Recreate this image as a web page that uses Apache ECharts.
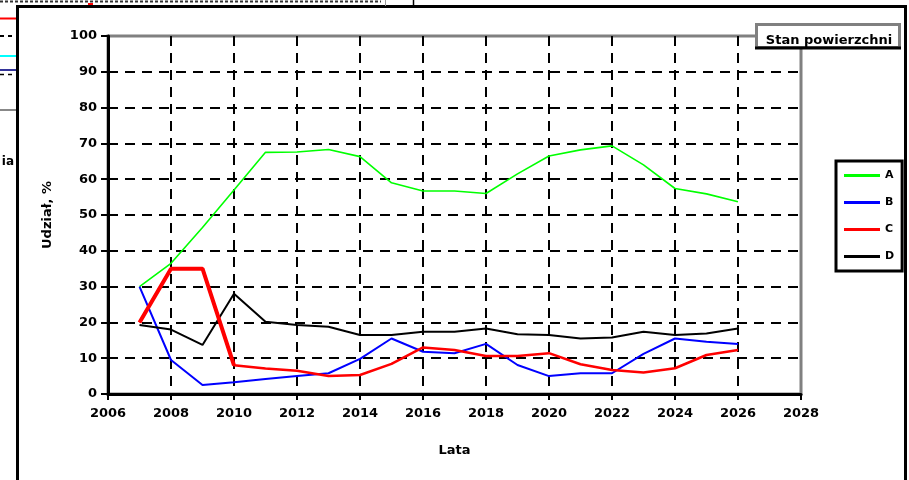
<!DOCTYPE html>
<html>
<head>
<meta charset="utf-8">
<script src="https://cdn.jsdelivr.net/npm/echarts@6/dist/echarts.min.js"></script>
<style>
  html, body { margin: 0; padding: 0; background: #fff; }
  #chart { width: 909px; height: 480px; }
</style>
</head>
<body>
<div id="chart"></div>
<script>
// Years along the horizontal axis
const years = [2007, 2008, 2009, 2010, 2011, 2012, 2013, 2014, 2015, 2016,
               2017, 2018, 2019, 2020, 2021, 2022, 2023, 2024, 2025, 2026];

// Share of each surface type, %
const seriesA = [30, 36.5, 46.5, 57, 67.5, 67.6, 68.3, 66.3, 59, 56.7,
                 56.7, 56, 61.5, 66.5, 68.2, 69.3, 64, 57.4, 55.9, 53.7];
const seriesB = [30, 9.5, 2.5, 3.3, 4.2, 5, 5.8, 9.8, 15.5, 11.8,
                 11.4, 14, 8.1, 5, 5.8, 5.8, 11.2, 15.5, 14.6, 14];
const seriesC = [20, 35, 35, 8, 7.1, 6.5, 5, 5.3, 8.4, 13,
                 12.3, 10.6, 10.6, 11.4, 8.3, 6.7, 6, 7.2, 10.9, 12.3];
const seriesD = [19.3, 18, 13.7, 28, 20.2, 19.3, 18.8, 16.5, 16.5, 17.4,
                 17.4, 18.3, 16.7, 16.5, 15.5, 15.8, 17.4, 16.5, 16.9, 18.3];

// Axis ticks
const xTicks = [2006, 2008, 2010, 2012, 2014, 2016, 2018, 2020, 2022, 2024, 2026, 2028];
const yTicks = [0, 10, 20, 30, 40, 50, 60, 70, 80, 90, 100];

const names = ['A', 'B', 'C', 'D'];
const colors = ['#00ff00', '#0000ff', '#ff0000', '#000000'];

const pairs = (vals) => years.map((y, i) => [y, vals[i]]);

const font = 'DejaVu Sans';
const dash = [10, 7];
const txt = (size) => ({ fontFamily: font, fontSize: size, fontWeight: 'bold', color: '#000' });

const chart = echarts.init(document.getElementById('chart'), null, { renderer: 'canvas' });

chart.setOption({
  animation: false,
  backgroundColor: '#ffffff',
  title: {
    text: 'Stan powierzchni',
    left: 824,
    top: 36,
    textAlign: 'center',
    textVerticalAlign: 'middle',
    z: 60,
    textStyle: txt(13)
  },
  legend: {
    data: names,
    orient: 'vertical',
    left: 836,
    top: 161,
    padding: [9, 8, 9, 8],
    itemWidth: 36,
    itemHeight: 3,
    itemGap: 16,
    icon: 'rect',
    backgroundColor: '#fff',
    borderColor: '#000',
    borderWidth: 3,
    textStyle: txt(11)
  },
  grid: {
    left: 108, top: 36, right: 108, bottom: 86,
    show: true,
    borderColor: '#808080',
    borderWidth: 3,
    backgroundColor: 'transparent'
  },
  xAxis: {
    type: 'value',
    min: xTicks[0],
    max: xTicks[xTicks.length - 1],
    interval: xTicks[1] - xTicks[0],
    name: 'Lata',
    nameLocation: 'middle',
    nameGap: 50,
    nameTextStyle: txt(13),
    axisLine: { show: true, onZero: false, lineStyle: { color: '#000', width: 3 } },
    axisTick: { show: true, inside: false, length: 6, lineStyle: { color: '#000', width: 2 } },
    axisLabel: Object.assign(txt(13), { margin: 13, formatter: (v) => String(v) }),
    splitLine: { show: true, showMinLine: false, showMaxLine: false,
                 lineStyle: { color: '#000', width: 2, type: dash } }
  },
  yAxis: {
    type: 'value',
    min: yTicks[0],
    max: yTicks[yTicks.length - 1],
    interval: yTicks[1] - yTicks[0],
    name: 'Udział, %',
    nameLocation: 'middle',
    nameRotate: 90,
    nameGap: 54,
    nameTextStyle: txt(13),
    axisLine: { show: true, onZero: false, lineStyle: { color: '#000', width: 3 } },
    axisTick: { show: true, inside: false, length: 7, lineStyle: { color: '#000', width: 2 } },
    axisLabel: Object.assign(txt(13), { margin: 11 }),
    splitLine: { show: true, showMinLine: false, showMaxLine: false,
                 lineStyle: { color: '#000', width: 2, type: dash } }
  },
  series: [
    { name: 'A', type: 'line', data: pairs(seriesA), showSymbol: false, symbol: 'none',
      lineStyle: { color: colors[0], width: 1.6 }, itemStyle: { color: colors[0] }, z: 3 },
    { name: 'B', type: 'line', data: pairs(seriesB), showSymbol: false, symbol: 'none',
      lineStyle: { color: colors[1], width: 2 }, itemStyle: { color: colors[1] }, z: 3 },
    { name: 'C', type: 'line', data: pairs(seriesC), showSymbol: false, symbol: 'none',
      lineStyle: { color: colors[2], width: 2.5 }, itemStyle: { color: colors[2] }, z: 4 },
    // heavier stroke on the opening stretch of C
    { type: 'line', data: pairs(seriesC).slice(0, 4), showSymbol: false, symbol: 'none',
      lineStyle: { color: colors[2], width: 4 }, z: 4 },
    { name: 'D', type: 'line', data: pairs(seriesD), showSymbol: false, symbol: 'none',
      lineStyle: { color: colors[3], width: 2 }, itemStyle: { color: colors[3] }, z: 3 }
  ],
  graphic: [
    // caption box
    { type: 'rect', z: 50, shape: { x: 756.5, y: 24.5, width: 143, height: 23 },
      style: { fill: '#fff', stroke: '#808080', lineWidth: 3 } },
    { type: 'line', z: 51, shape: { x1: 755, y1: 48, x2: 901, y2: 48 },
      style: { stroke: '#000', lineWidth: 3 } },
    // outer frame of the sheet
    { type: 'rect', z: 100, shape: { x: 17.5, y: 6.5, width: 888, height: 480 },
      style: { fill: 'none', stroke: '#000', lineWidth: 3 } },
    // neighbouring sheet edges
    { type: 'line', z: 100, shape: { x1: 0, y1: 1.5, x2: 381, y2: 1.5 },
      style: { stroke: '#333', lineWidth: 2, lineDash: [3, 2] } },
    { type: 'line', z: 100, shape: { x1: 385.5, y1: 0, x2: 385.5, y2: 6 },
      style: { stroke: '#999', lineWidth: 1 } },
    { type: 'line', z: 100, shape: { x1: 413.5, y1: 0, x2: 413.5, y2: 6 },
      style: { stroke: '#000', lineWidth: 1.5 } },
    { type: 'line', z: 100, shape: { x1: 88, y1: 4, x2: 93, y2: 4 },
      style: { stroke: '#ff0000', lineWidth: 2 } },
    { type: 'line', z: 100, shape: { x1: 0, y1: 18.5, x2: 16, y2: 18.5 },
      style: { stroke: '#ff0000', lineWidth: 2 } },
    { type: 'line', z: 100, shape: { x1: 0, y1: 36, x2: 16, y2: 36 },
      style: { stroke: '#000', lineWidth: 2, lineDash: [4, 4] } },
    { type: 'line', z: 100, shape: { x1: 0, y1: 56, x2: 16, y2: 56 },
      style: { stroke: '#00ffff', lineWidth: 2 } },
    { type: 'line', z: 100, shape: { x1: 0, y1: 70, x2: 16, y2: 70 },
      style: { stroke: '#333399', lineWidth: 2 } },
    { type: 'line', z: 100, shape: { x1: 0, y1: 74.5, x2: 16, y2: 74.5 },
      style: { stroke: '#000', lineWidth: 1.5, lineDash: [4, 4] } },
    { type: 'line', z: 100, shape: { x1: 0, y1: 110, x2: 16, y2: 110 },
      style: { stroke: '#888', lineWidth: 2 } },
    { type: 'text', z: 100, style: { x: 14, y: 162, text: 'ia', align: 'right',
      verticalAlign: 'middle', font: 'bold 12px "DejaVu Sans"', fill: '#000' } }
  ]
});
</script>
</body>
</html>
